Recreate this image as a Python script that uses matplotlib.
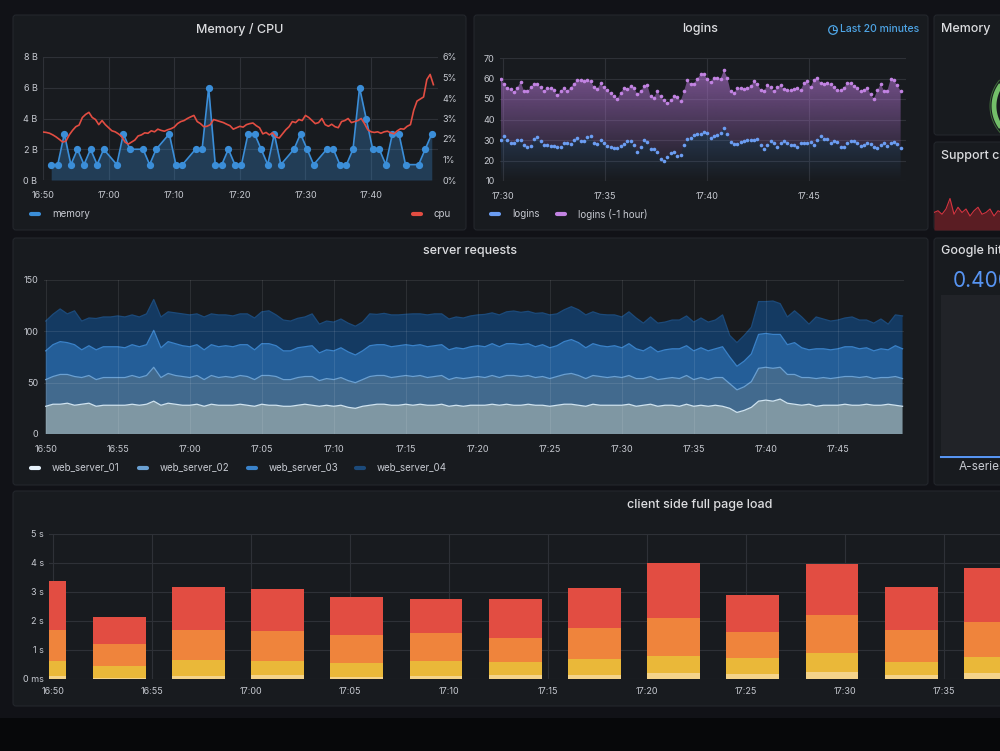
import numpy as np
import matplotlib
matplotlib.use('Agg')
import matplotlib.pyplot as plt
import matplotlib.colors as mcolors
from matplotlib.patches import FancyBboxPatch, Rectangle, Circle

plt.rcParams['font.family'] = ['Inter', 'DejaVu Sans']

# ---- data ----
# Memory / CPU panel (minutes after 16:50)
mem_minutes = [1, 2, 3, 4, 5, 6, 7, 8, 9, 11, 12, 13, 15, 16, 17, 19, 20, 21,
               23, 24, 25, 26, 27, 28, 29, 30, 31, 32, 33, 34, 35, 36,
               38, 39, 40, 41, 43, 44, 45, 46, 47, 48, 49, 50, 51, 52, 53, 54, 55,
               57, 58, 59]
mem_bytes = [1, 1, 3, 1, 2, 1, 2, 1, 2, 1, 3, 2, 2, 1, 2, 3, 1, 1,
             2, 2, 6, 1, 1, 2, 1, 1, 3, 3, 2, 1, 3, 1,
             2, 3, 2, 1, 2, 2, 1, 1, 2, 6, 4, 2, 2, 1, 3, 3, 1,
             1, 2, 3]
cpu_pct = [2.34, 2.32, 2.28, 2.20, 2.10, 1.98, 1.85, 1.90, 2.20, 2.42,
           2.60, 2.68, 3.05, 3.20, 3.30, 3.05, 2.95, 2.70, 2.90, 2.70,
           2.55, 2.40, 2.35, 2.25, 2.12, 1.85, 1.75, 1.85, 1.95, 2.15,
           2.20, 2.30, 2.28, 2.40, 2.35, 2.48, 2.42, 2.38, 2.45, 2.50,
           2.58, 2.75, 2.85, 2.90, 3.00, 3.08, 3.15, 2.85, 2.75, 2.60,
           2.62, 2.70, 2.95, 2.90, 2.85, 2.80, 2.72, 2.65, 2.48, 2.55,
           2.62, 2.58, 2.70, 2.75, 2.78, 2.65, 2.55, 2.25, 2.32, 2.20,
           2.30, 2.10, 2.05, 2.25, 2.45, 2.60, 2.85, 2.80, 2.95, 2.90,
           3.15, 3.05, 2.90, 2.75, 2.80, 3.00, 2.70, 2.62, 2.72, 2.60,
           2.55, 2.85, 2.90, 3.00, 2.80, 2.85, 2.90, 3.00, 2.75, 2.45,
           2.35, 2.32, 2.35, 2.28, 2.35, 2.38, 2.30, 2.25, 2.40, 2.50,
           2.48, 2.62, 2.70, 3.40, 3.85, 3.95, 4.05, 4.90, 5.15, 4.65]

# logins panel (10 s samples from 17:30)
logins = [29.8, 32.0, 29.8, 28.5, 28.5, 30.2, 30.2, 27.4, 26.6, 26.9,
          30.5, 31.5, 29.5, 27.4, 27.4, 27.2, 26.9, 26.6, 26.6, 28.7,
          28.7, 28.2, 29.8, 31.0, 29.5, 29.5, 31.5, 31.8, 28.7, 28.2,
          29.8, 28.7, 26.9, 26.6, 26.1, 26.3, 26.9, 28.2, 29.3, 29.5,
          27.4, 24.1, 26.6, 30.2, 29.0, 25.8, 25.8, 24.1, 20.9, 19.8,
          21.7, 23.7, 24.1, 22.0, 22.5, 27.4, 30.7, 31.1, 32.3, 33.1,
          33.1, 33.9, 33.4, 31.1, 31.8, 32.3, 33.4, 36.0, 32.8, 29.0,
          27.9, 27.9, 29.0, 29.5, 30.2, 30.2, 29.8, 30.3, 27.4, 25.8,
          27.4, 29.3, 28.5, 26.6, 28.5, 29.3, 28.5, 27.7, 27.4, 26.6,
          28.5, 28.7, 28.7, 29.0, 27.4, 29.8, 32.0, 30.3, 30.3, 28.7,
          29.3, 29.0, 26.6, 26.6, 28.7, 29.3, 29.3, 28.5, 27.0, 27.4,
          28.5, 27.9, 26.6, 26.1, 27.4, 28.5, 26.9, 28.7, 29.0, 28.2, 26.1]
logins_1h = [59.9, 57.2, 55.4, 54.9, 53.6, 55.5, 58.3, 54.1, 53.7, 55.7,
             57.2, 57.2, 55.9, 54.1, 55.2, 55.4, 54.2, 52.0, 53.7, 55.5,
             54.1, 55.5, 57.5, 59.4, 59.4, 58.8, 59.1, 58.9, 55.9, 55.0,
             57.6, 55.7, 54.2, 52.9, 51.6, 50.2, 52.9, 55.4, 54.7, 56.5,
             55.4, 52.6, 53.7, 56.2, 57.0, 51.3, 50.7, 53.7, 51.3, 49.3,
             48.0, 49.3, 51.5, 51.0, 48.9, 53.7, 59.1, 57.5, 57.5, 59.9,
             62.0, 62.0, 59.9, 58.3, 60.2, 60.4, 59.9, 64.0, 60.4, 53.7,
             52.9, 55.4, 55.5, 54.9, 55.4, 56.2, 58.6, 57.5, 54.6, 53.7,
             56.8, 55.9, 53.7, 55.9, 56.7, 54.7, 54.2, 54.2, 54.9, 55.5,
             54.2, 57.8, 58.6, 55.9, 59.4, 60.4, 57.8, 57.5, 57.8, 57.2,
             55.7, 54.2, 54.2, 55.5, 58.0, 58.0, 56.2, 55.2, 53.7, 54.2,
             55.5, 52.3, 50.2, 54.2, 57.2, 54.1, 53.9, 59.6, 59.1, 56.7, 53.9]

# server requests (30 s samples from 16:50)
req_total = [110, 116.6, 121.8, 117, 120, 110, 113, 112.5, 114, 114,
             115, 114, 116, 114, 117, 131, 114, 119, 118, 117,
             116, 117, 114, 117, 116, 116, 115, 117, 117, 113,
             119, 120, 116, 111, 110, 112.7, 114, 117, 107, 110,
             109, 112, 108, 105, 109, 117, 116.5, 117.5, 116, 116,
             116.6, 117, 117, 116, 117, 117, 112, 114, 113, 115,
             116, 116.5, 118, 116, 119, 119.8, 118.5, 119.5, 117.5, 118,
             116, 117, 121, 124, 121, 116, 119, 116.6, 116, 116,
             114, 119, 113, 108, 114, 108, 109, 111, 111, 115,
             109, 113, 109, 111, 116, 96, 89, 96, 104, 129,
             129, 129.5, 127, 114, 120, 114, 107, 114, 112, 110,
             111, 113, 114, 111, 111, 108, 112, 107, 116, 115]
web_server_01 = [27, 29, 29, 30, 28, 29, 30, 27, 28, 28,
                 28, 28, 29, 28, 29, 32, 28, 30, 29, 28,
                 28, 29, 27, 29, 28, 28, 28, 29, 28, 27,
                 29, 28, 28, 27, 27, 28, 29, 28, 27, 28,
                 27, 28, 26, 25, 27, 28, 29, 29, 28, 28,
                 29, 28, 29, 28, 28, 29, 27, 28, 27, 28,
                 28, 28, 29, 28, 29, 28, 28, 29, 28, 28,
                 27, 28, 29, 29, 28, 27, 29, 28, 28, 28,
                 28, 29, 27, 28, 29, 27, 28, 28, 27, 29,
                 27, 28, 27, 28, 27, 25, 21, 23, 26, 32,
                 33, 32, 34, 30, 29, 28, 29, 27, 28, 28,
                 28, 29, 28, 28, 29, 28, 28, 29, 28, 27]
web_server_02 = [26, 27, 29, 28, 28, 26, 27, 26, 27, 27,
                 27, 27, 28, 27, 28, 33, 27, 29, 28, 28,
                 27, 28, 26, 28, 27, 28, 27, 28, 28, 26,
                 28, 29, 28, 26, 26, 27, 27, 28, 25, 26,
                 26, 27, 26, 25, 26, 28, 28, 28, 27, 28,
                 28, 28, 28, 27, 28, 28, 26, 27, 27, 27,
                 28, 27, 28, 27, 28, 29, 28, 28, 27, 28,
                 27, 28, 29, 30, 29, 27, 28, 28, 27, 28,
                 27, 28, 27, 26, 27, 26, 26, 27, 27, 28,
                 26, 27, 26, 27, 28, 24, 22, 23, 25, 32,
                 32, 32, 31, 28, 29, 27, 26, 27, 27, 26,
                 27, 27, 28, 27, 27, 26, 27, 26, 28, 27]
web_server_03 = [28, 31, 32, 31, 31, 27, 29, 29, 30, 30,
                 30, 29, 30, 30, 30, 36, 29, 31, 31, 30,
                 30, 30, 29, 30, 30, 30, 30, 30, 31, 29,
                 31, 31, 30, 28, 28, 29, 29, 30, 27, 28,
                 28, 29, 28, 27, 28, 30, 30, 30, 30, 30,
                 30, 30, 30, 30, 30, 30, 29, 29, 29, 30,
                 30, 30, 31, 30, 31, 31, 31, 31, 30, 31,
                 30, 30, 32, 33, 32, 30, 31, 30, 30, 30,
                 29, 31, 29, 27, 29, 27, 28, 28, 29, 29,
                 28, 29, 28, 28, 30, 26, 23, 25, 27, 33,
                 33, 33, 32, 29, 31, 29, 27, 29, 28, 28,
                 28, 29, 29, 28, 28, 27, 28, 27, 30, 29]

# client side full page load, stacked levels in seconds (bars every 4 min)
load_p_pale = [0.10, 0.03, 0.10, 0.13, 0.07, 0.10, 0.15, 0.13, 0.21, 0.18, 0.25, 0.15, 0.21]
load_p_yellow = [0.62, 0.46, 0.67, 0.63, 0.56, 0.62, 0.58, 0.69, 0.78, 0.71, 0.89, 0.60, 0.76]
load_p_orange = [1.67, 1.20, 1.67, 1.64, 1.51, 1.58, 1.41, 1.77, 2.11, 1.63, 2.20, 1.69, 1.95]
load_p_red = [3.37, 2.12, 3.15, 3.10, 2.83, 2.75, 2.75, 3.13, 3.98, 2.90, 3.97, 3.18, 3.83]

support_calls = [10, 11, 9, 12, 18, 9, 13, 10, 12, 8, 11, 13, 9, 10, 12, 8, 11, 10, 12, 9]

mem_ticks = ['16:50', '17:00', '17:10', '17:20', '17:30', '17:40']
login_ticks = ['17:30', '17:35', '17:40', '17:45']
req_ticks = ['16:50', '16:55', '17:00', '17:05', '17:10', '17:15', '17:20', '17:25',
             '17:30', '17:35', '17:40', '17:45']
load_ticks = ['16:50', '16:55', '17:00', '17:05', '17:10', '17:15', '17:20', '17:25',
              '17:30', '17:35']

# ---- style ----
W, H = 1000, 751
page_bg = '#111217'
panel_bg = '#181b1f'
panel_edge = '#23262c'
grid_c = '#2e3137'
tick_c = '#c7cad1'
title_c = '#dcdde0'
TICK = 6.5
LEG = 7

fig = plt.figure(figsize=(10, 7.51), dpi=100, facecolor=page_bg)
bg = fig.add_axes([0, 0, 1, 1], zorder=0)
bg.set_xlim(0, W)
bg.set_ylim(H, 0)
bg.axis('off')


def panel(x0, y0, x1, y1):
    bg.add_patch(FancyBboxPatch((x0, y0), x1 - x0, y1 - y0,
                                boxstyle='round,pad=0,rounding_size=3',
                                fc=panel_bg, ec=panel_edge, lw=0.8))


def px_axes(x0, y0, x1, y1):
    ax = fig.add_axes([x0 / W, 1 - y1 / H, (x1 - x0) / W, (y1 - y0) / H], zorder=2)
    ax.patch.set_alpha(0)
    for s in ax.spines.values():
        s.set_visible(False)
    ax.tick_params(length=0, colors=tick_c, labelsize=TICK, pad=4)
    ax.tick_params(axis='x', pad=8)
    ax.grid(True, color=grid_c, lw=0.8)
    ax.set_axisbelow(True)
    return ax


def legend_item(x, y, color, label):
    bg.plot([x + 1.5, x + 10], [y, y], color=color, lw=3, solid_capstyle='round')
    bg.text(x + 23, y, label, va='center', ha='left', fontsize=LEG, color=tick_c)


def grad_fill(ax, x, lo, hi, color, alpha_lo, alpha_hi, ylo, yhi):
    poly = ax.fill_between(x, lo, hi, color='none', lw=0)
    img = np.zeros((200, 1, 4))
    img[:, 0, :3] = mcolors.to_rgb(color)
    img[:, 0, 3] = np.clip(np.linspace(alpha_lo, alpha_hi, 200), 0, 1)
    im = ax.imshow(img, origin='lower', aspect='auto',
                   extent=[min(x), max(x), ylo, yhi], zorder=1)
    im.set_clip_path(poly.get_paths()[0], transform=ax.transData)


# page pieces
bg.add_patch(Rectangle((0, 718), W, H - 718, fc='#07080a', ec='none'))
panel(13, 15, 466, 230)
panel(474, 15, 928, 230)
panel(934, 15, 1010, 135)
panel(934, 142, 1010, 230)
panel(13, 238, 928, 485)
panel(934, 238, 1010, 485)
panel(13, 491, 1010, 706)

# ---- Memory / CPU ----
bg.text(240, 29, 'Memory / CPU', ha='center', va='center', fontsize=9, color=title_c, fontweight='medium')
ax1 = px_axes(43, 57, 438, 180)
mem_t = np.array(mem_minutes) + 0.25
mem_c = '#3b8ed8'
ax1.fill_between(mem_t, mem_bytes, 0, color=mem_c, alpha=0.3, lw=0)
ax1.plot(mem_t, mem_bytes, color=mem_c, lw=1.2, marker='o', ms=4.2, zorder=4)
ax1.set_xlim(0, 60.2)
ax1.set_ylim(0, 8)
ax1.set_yticks([0, 2, 4, 6, 8])
ax1.set_yticklabels([f'{v} B' for v in [0, 2, 4, 6, 8]])
ax1.set_xticks(np.arange(0, 60, 10))
ax1.set_xticklabels(mem_ticks)
ax1b = ax1.twinx()
ax1b.patch.set_alpha(0)
for s in ax1b.spines.values():
    s.set_visible(False)
cpu_t = np.arange(len(cpu_pct)) * 0.5
ax1b.plot(cpu_t, cpu_pct, color='#e24d42', lw=1.2, zorder=3)
ax1b.set_ylim(0, 6)
ax1b.set_yticks(range(7))
ax1b.set_yticklabels([f'{v}%' for v in range(7)])
ax1b.tick_params(length=0, colors=tick_c, labelsize=TICK, pad=3)
legend_item(29, 214, mem_c, 'memory')
legend_item(411, 214, '#e24d42', 'cpu')

# ---- logins ----
bg.text(700, 29, 'logins', ha='center', va='center', fontsize=9, color=title_c, fontweight='medium')
blue_txt = '#4ea5e6'
bg.text(919, 29, 'Last 20 minutes', ha='right', va='center', fontsize=7.5, color=blue_txt, fontweight='medium')
bg.add_patch(Circle((833, 30), 4.3, fc='none', ec=blue_txt, lw=0.9))
bg.plot([833, 833, 835.5], [27, 30, 30], color=blue_txt, lw=0.8)
ax2 = px_axes(500, 58, 906, 181)
login_t = -0.13 + np.arange(len(logins)) * (10 / 61.2)
grad_fill(ax2, login_t, logins, logins_1h, '#b877d9', -0.02, 0.67, 10, 70)
grad_fill(ax2, login_t, 10, logins, '#5794f2', 0.0, 0.55, 10, 70)
ax2.plot(login_t, logins_1h, ls='none', marker='o', ms=2.6, mew=0, color='#c283e2', zorder=4)
ax2.plot(login_t, logins, ls='none', marker='o', ms=2.6, mew=0, color='#6b9df2', zorder=4)
ax2.set_xlim(-0.16, 19.74)
ax2.set_ylim(10, 70)
ax2.set_yticks(range(10, 71, 10))
ax2.set_xticks([0, 5, 10, 15])
ax2.set_xticklabels(login_ticks)
legend_item(489, 214, '#6b9df2', 'logins')
legend_item(555, 214, '#c283e2', 'logins (-1 hour)')

# ---- server requests ----
bg.text(470, 251, 'server requests', ha='center', va='center', fontsize=9, color=title_c, fontweight='medium')
ax3 = px_axes(44, 280, 904, 434)
req_t = np.arange(len(req_total)) * 0.5
s1 = np.array(web_server_01, float)
s2 = np.array(web_server_02, float)
s3 = np.array(web_server_03, float)
s4 = np.array(req_total, float) - s1 - s2 - s3
fills = ['#7f97a3', '#426a8e', '#245e98', '#143a62']
lines = ['#cfe3f0', '#6aa0d2', '#3a82c9', '#1c4a7a']
ax3.stackplot(req_t, s1, s2, s3, s4, colors=fills, lw=0, zorder=1)
tops = np.cumsum([s1, s2, s3, s4], axis=0)
for k in range(4):
    ax3.plot(req_t, tops[k], color=lines[k], lw=0.9, zorder=2)
ax3.set_axisbelow(False)
ax3.grid(True, color='white', alpha=0.09, lw=0.8)
ax3.set_xlim(-0.12, 59.6)
ax3.set_ylim(0, 150)
ax3.set_yticks([0, 50, 100, 150])
ax3.set_xticks(np.arange(0, 60, 5))
ax3.set_xticklabels(req_ticks)
legend_item(29, 467.5, '#e6f1fa', 'web_server_01')
legend_item(137, 467.5, '#6aa0d2', 'web_server_02')
legend_item(246, 467.5, '#3a82c9', 'web_server_03')
legend_item(354, 467.5, '#1c4a7a', 'web_server_04')

# ---- client side full page load ----
bg.text(700, 505, 'client side full page load', ha='center', va='center', fontsize=9, color=title_c, fontweight='medium')
ax4 = px_axes(49.3, 533.7, 1049.3, 679)
load_t = np.arange(len(load_p_red)) * 4 - 0.67
bw = 2.67
ax4.bar(load_t, load_p_red, width=bw, color='#e24d42', zorder=2)
ax4.bar(load_t, load_p_orange, width=bw, color='#ef843c', zorder=3)
ax4.bar(load_t, load_p_yellow, width=bw, color='#eab839', zorder=4)
ax4.bar(load_t, load_p_pale, width=bw, color='#f4d38a', zorder=5)
ax4.set_xlim(-0.2, -0.2 + 1000 / 19.8)
ax4.set_ylim(0, 5)
ax4.set_yticks(range(6))
ax4.set_yticklabels(['0 ms'] + [f'{v} s' for v in range(1, 6)])
ax4.set_xticks(np.arange(0, 50, 5))
ax4.set_xticklabels(load_ticks)
ax4.tick_params(axis='x', pad=6)

# ---- right column ----
bg.text(941, 29, 'Memory', ha='left', va='center', fontsize=9, color=title_c, fontweight='medium')
th = np.radians(np.linspace(140, 235, 60))
bg.plot(1030 + 36 * np.cos(th), 106 - 36 * np.sin(th), color='#73bf69', lw=3.5, solid_capstyle='butt')
bg.plot(1030 + 40 * np.cos(th), 106 - 40 * np.sin(th), color='#3f6b3a', lw=0.7)

bg.text(941, 156, 'Support calls', ha='left', va='center', fontsize=9, color=title_c, fontweight='medium')
ax5 = fig.add_axes([934 / W, 1 - 230 / H, 76 / W, 35 / H], zorder=2)
ax5.axis('off')
sc_t = np.arange(len(support_calls))
ax5.fill_between(sc_t, support_calls, 0, color='#5a1d23', lw=0)
ax5.plot(sc_t, support_calls, color='#d4333f', lw=0.8)
ax5.set_xlim(0, len(support_calls) - 1)
ax5.set_ylim(0, 20)

bg.text(941, 251, 'Google hits', ha='left', va='center', fontsize=9, color=title_c, fontweight='medium')
bg.text(953, 281, '0.400', ha='left', va='center', fontsize=15, color='#5794f2')
bg.add_patch(Rectangle((941, 295), 70, 160, fc='#212328', ec='none'))
bg.plot([941, 1010], [457, 457], color='#5794f2', lw=1.5)
bg.text(959, 467, 'A-series', ha='left', va='center', fontsize=8.5, color=tick_c)

fig.savefig('out.png', dpi=100, facecolor=page_bg)
